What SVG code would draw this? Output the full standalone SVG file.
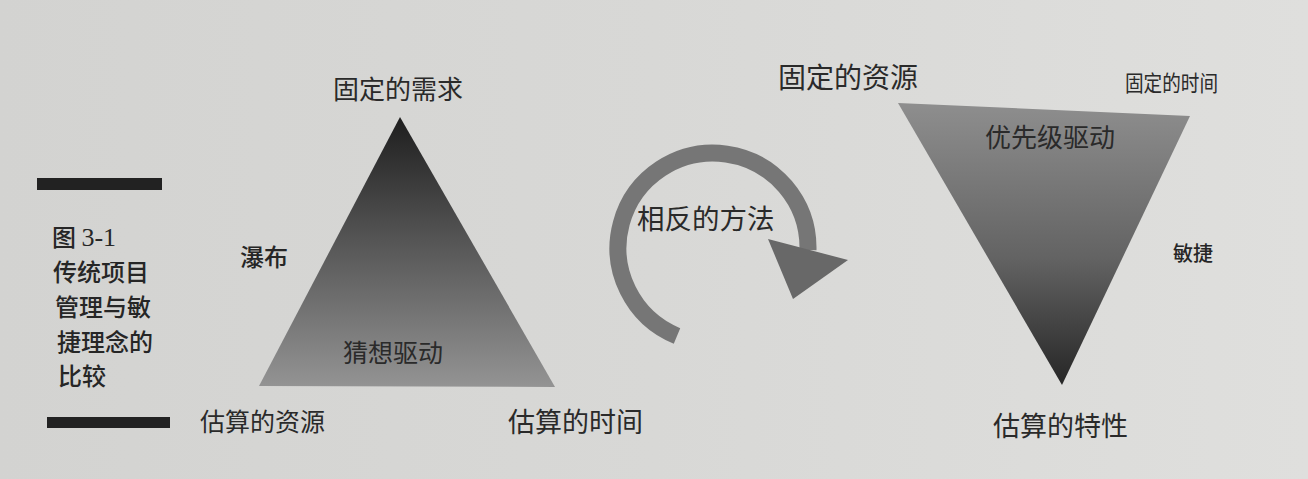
<svg xmlns="http://www.w3.org/2000/svg" width="1308" height="479" viewBox="0 0 1308 479">
  <defs>
    <linearGradient id="bg" x1="0" y1="0" x2="1" y2="0">
      <stop offset="0" stop-color="#d3d3d1"/>
      <stop offset="0.5" stop-color="#d8d8d6"/>
      <stop offset="1" stop-color="#dfdfdd"/>
    </linearGradient>
    <linearGradient id="gLeft" x1="0" y1="117" x2="0" y2="386" gradientUnits="userSpaceOnUse">
      <stop offset="0" stop-color="#1e1e1e"/>
      <stop offset="0.45" stop-color="#545454"/>
      <stop offset="1" stop-color="#939393"/>
    </linearGradient>
    <linearGradient id="gRight" x1="0" y1="103" x2="0" y2="385" gradientUnits="userSpaceOnUse">
      <stop offset="0" stop-color="#8e8e8e"/>
      <stop offset="0.55" stop-color="#636363"/>
      <stop offset="1" stop-color="#262626"/>
    </linearGradient>
  </defs>
  <style>
    .lbl { font-family: "Noto Sans CJK SC", "Noto Sans", sans-serif; fill: #2a2a2a; font-weight: 400; }
    .bold { font-family: "Noto Sans CJK SC", "Noto Sans", sans-serif; fill: #262626; font-weight: 500; }
    .serif { font-family: "Liberation Serif", "Noto Sans CJK SC", serif; font-weight: 400; font-size: 26px; }
    .bar { fill: #222222; }
  </style>
  <rect x="0" y="0" width="1308" height="479" fill="url(#bg)"/>

  <g id="caption">
    <rect class="bar" x="37" y="178" width="125" height="12"/>
    <text class="bold" x="52" y="246" font-size="24">图 <tspan class="serif">3-1</tspan></text>
    <text class="bold" x="53" y="281" font-size="24">传统项目</text>
    <text class="bold" x="55" y="316" font-size="24">管理与敏</text>
    <text class="bold" x="57" y="351" font-size="24">捷理念的</text>
    <text class="bold" x="58" y="385" font-size="24">比较</text>
    <rect class="bar" x="47" y="417" width="123" height="11"/>
  </g>

  <g id="waterfall">
    <polygon points="400,117 555,387 259,386" fill="url(#gLeft)"/>
    <text class="lbl" x="333" y="99" font-size="26">固定的需求</text>
    <text class="bold" x="240" y="266" font-size="24">瀑布</text>
    <text class="lbl" x="343" y="362" font-size="25">猜想驱动</text>
    <text class="lbl" x="200" y="431" font-size="25">估算的资源</text>
    <text class="lbl" x="508" y="432" font-size="27">估算的时间</text>
  </g>

  <g id="connectors">
    <path d="M 677,336 A 95,95 0 1 1 808,250" fill="none" stroke="#767676" stroke-width="17"/>
    <polygon points="768,239 848,260 793,299" fill="#686868"/>
  </g>

  <g id="reverse-label">
    <text class="lbl" x="637" y="229" font-size="27.5">相反的方法</text>
  </g>

  <g id="agile">
    <polygon points="898,103 1190,116 1062,385" fill="url(#gRight)"/>
    <text class="lbl" x="778" y="88" font-size="28">固定的资源</text>
    <text class="lbl" x="1125" y="91" font-size="22" textLength="93" lengthAdjust="spacingAndGlyphs">固定的时间</text>
    <text class="lbl" x="985" y="147" font-size="26">优先级驱动</text>
    <text class="bold" x="1173" y="261" font-size="20">敏捷</text>
    <text class="lbl" x="993" y="436" font-size="27">估算的特性</text>
  </g>
</svg>
